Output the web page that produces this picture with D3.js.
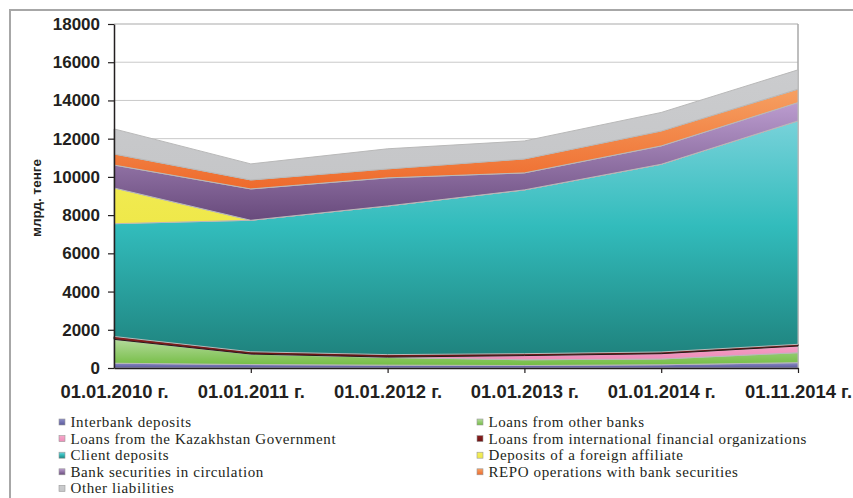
<!DOCTYPE html>
<html>
<head>
<meta charset="utf-8">
<script src="https://cdn.jsdelivr.net/npm/d3@7"></script>
<style>
  body { margin: 0; background: #fff; }
  svg { display: block; }
  .axis text { font-family: "Liberation Sans", Arial, sans-serif; font-weight: bold; fill: #231f20; }
  .legend text { font-family: "Liberation Serif", "Times New Roman", serif; font-size: 15px; letter-spacing: 0.6px; fill: #231f20; }
</style>
</head>
<body>
<svg id="container"></svg>
<script>
// categories and series (bn tenge)
const dates = ["01.01.2010 г.", "01.01.2011 г.", "01.01.2012 г.", "01.01.2013 г.", "01.01.2014 г.", "01.11.2014 г."];
const interbankDeposits = [250, 180, 150, 130, 170, 280];
const loansOtherBanks   = [1250, 550, 400, 300, 300, 520];
const loansGovernment   = [0, 0, 20, 220, 280, 350];
const loansIntlOrgs     = [150, 120, 130, 100, 90, 90];
const clientDeposits    = [5900, 6880, 7780, 8570, 9820, 11690];
const foreignAffiliate  = [1870, 0, 0, 0, 0, 0];
const bankSecurities    = [1200, 1640, 1470, 890, 960, 960];
const repoOperations    = [580, 470, 470, 730, 780, 700];
const otherLiabilities  = [1310, 840, 1050, 940, 970, 1010];
const yTicks = [0, 2000, 4000, 6000, 8000, 10000, 12000, 14000, 16000, 18000];
const yTitle = "млрд. тенге";

const series = [
  {key: "Interbank deposits", values: interbankDeposits, c1: "#8c8cc8", c2: "#5b5a9c"},
  {key: "Loans from other banks", values: loansOtherBanks, c1: "#b4da9c", c2: "#74bd44"},
  {key: "Loans from the Kazakhstan Government", values: loansGovernment, c1: "#f5a8c9", c2: "#ee8cb9"},
  {key: "Loans from international financial organizations", values: loansIntlOrgs, c1: "#8a1f1f", c2: "#6e1414"},
  {key: "Client deposits", values: clientDeposits, c1: "#78d2da", c2: "#1f837e"},
  {key: "Deposits of a foreign affiliate", values: foreignAffiliate, c1: "#f3ee5c", c2: "#efe84a"},
  {key: "Bank securities in circulation", values: bankSecurities, c1: "#bb9ccf", c2: "#684a7c"},
  {key: "REPO operations with bank securities", values: repoOperations, c1: "#f6a062", c2: "#ee6a2c"},
  {key: "Other liabilities", values: otherLiabilities, c1: "#cbccce", c2: "#c5c6c8"}
];

const W = 853, H = 498;
const margin = {top: 24, right: 55, bottom: 130, left: 114},
      w = W - margin.left - margin.right,
      h = H - margin.top - margin.bottom;

const svg = d3.select("#container").attr("width", W).attr("height", H);

// outer frame (left and top only visible)
svg.append("path")
   .attr("d", "M10," + H + "V10H" + W)
   .attr("fill", "none").attr("stroke", "#a7a7a7").attr("stroke-width", 2);

const defs = svg.append("defs");
series.forEach((s, i) => {
  const g = defs.append("linearGradient").attr("id", "grad" + i)
    .attr("x1", 0).attr("y1", 0).attr("x2", 0).attr("y2", 1);
  g.append("stop").attr("offset", "0%").attr("stop-color", s.c1);
  if (i === 4) g.append("stop").attr("offset", "45%").attr("stop-color", "#32bcbc");
  g.append("stop").attr("offset", "100%").attr("stop-color", s.c2);
});

const chart = svg.append("g").attr("transform", "translate(" + margin.left + "," + margin.top + ")");

const x = d3.scalePoint().domain(dates).range([0, w]);
const y = d3.scaleLinear().domain([0, 18000]).range([h, 0]);

// grid
chart.append("g").selectAll("line").data(yTicks.filter(d => d > 0)).enter().append("line")
  .attr("x1", 0).attr("x2", w)
  .attr("y1", d => y(d)).attr("y2", d => y(d))
  .attr("stroke", d => d === 18000 ? "#a9a9a9" : "#c9c9c9").attr("stroke-width", 1);
chart.append("line").attr("x1", w).attr("x2", w).attr("y1", 0).attr("y2", h)
  .attr("stroke", "#a9a9a9").attr("stroke-width", 1.5);

// stacked areas
const table = dates.map((d, i) => {
  const row = {date: d};
  series.forEach(s => row[s.key] = s.values[i]);
  return row;
});
const stacked = d3.stack().keys(series.map(s => s.key))(table);
const area = d3.area()
  .x(d => x(d.data.date))
  .y0(d => y(d[0]))
  .y1(d => y(d[1]));

chart.append("g").selectAll("path").data(stacked).enter().append("path")
  .attr("d", area)
  .attr("fill", (d, i) => "url(#grad" + i + ")")
  .attr("stroke", (d, i) => i === 3 ? "#2a1a1a" : "#b9b9b9")
  .attr("stroke-width", 1)
  .attr("stroke-linejoin", "round");

// axes
const gY = chart.append("g").attr("class", "axis")
  .call(d3.axisLeft(y).tickValues(yTicks).tickFormat(d3.format("d"))
    .tickSizeInner(6).tickSizeOuter(0).tickPadding(8));
gY.selectAll("text").style("font-size", "17px");
const gX = chart.append("g").attr("class", "axis").attr("transform", "translate(0," + h + ")")
  .call(d3.axisBottom(x).tickSizeInner(5).tickSizeOuter(0).tickPadding(12));
gX.selectAll("text").style("font-size", "18.4px");
chart.selectAll(".axis .domain").attr("stroke", "#231f20").attr("stroke-width", 1.5);
chart.selectAll(".axis .tick line").attr("stroke", "#231f20").attr("stroke-width", 1.2);
gX.selectAll(".tick").filter((d, i) => i === 0).select("line").remove();

// y title
svg.append("text")
  .attr("transform", "translate(41,198) rotate(-90)")
  .attr("text-anchor", "middle")
  .style("font-family", "'Liberation Sans', Arial, sans-serif")
  .style("font-weight", "bold").style("font-size", "13.5px").style("fill", "#231f20")
  .text(yTitle);

// legend, two columns, row-major order
const legend = svg.append("g").attr("class", "legend");
const colX = [59, 477], rowY0 = 422, rowH = 16.6;
const items = legend.selectAll("g").data(series).enter().append("g")
  .attr("transform", (d, i) => "translate(" + colX[i % 2] + "," + (rowY0 + Math.floor(i / 2) * rowH) + ")");
items.append("rect")
  .attr("x", 0).attr("y", -3).attr("width", 6).attr("height", 6)
  .attr("fill", (d, i) => "url(#grad" + i + ")")
  .attr("stroke", "#999").attr("stroke-width", 0.6);
items.append("text")
  .attr("x", 11.5).attr("y", 5)
  .text(d => d.key);
</script>
</body>
</html>
